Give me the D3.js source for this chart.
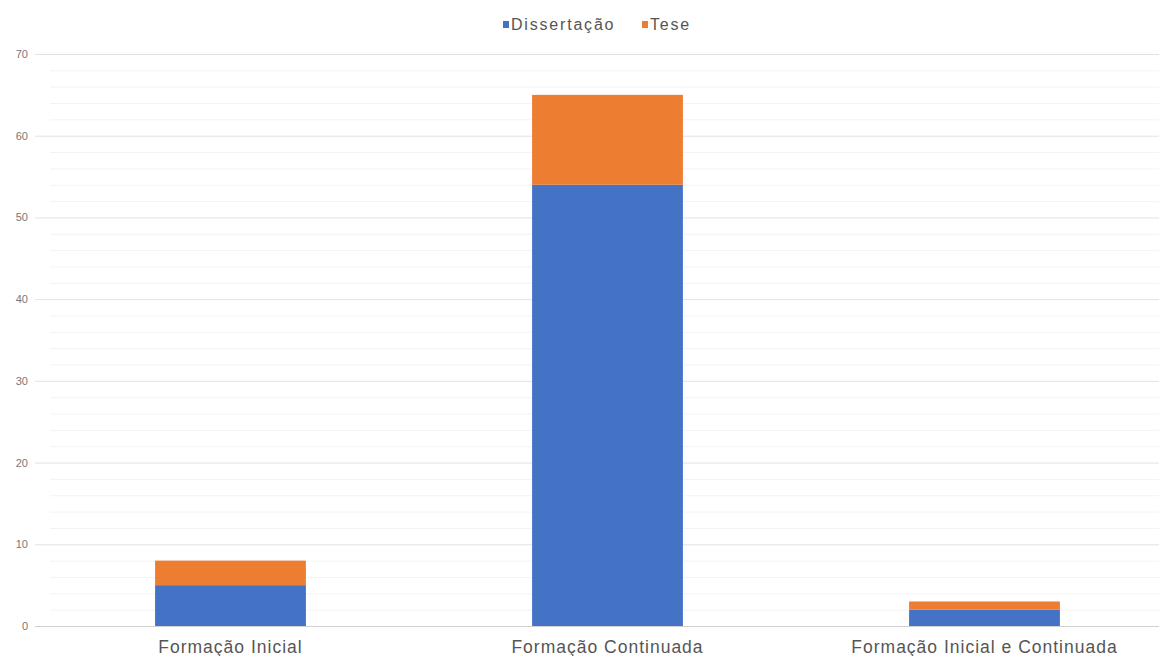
<!DOCTYPE html>
<html>
<head>
<meta charset="utf-8">
<script src="https://cdn.jsdelivr.net/npm/d3@7"></script>
<style>
  html, body { margin: 0; padding: 0; background: #fff; }
  svg { display: block; font-family: Arial, "Liberation Sans", sans-serif; }
</style>
</head>
<body>
<svg id="chart" width="1159" height="656"></svg>
<script>
// Research works by training type, split into dissertations and theses
const categories = ["Formação Inicial", "Formação Continuada", "Formação Inicial e Continuada"];
const seriesNames = ["Dissertação", "Tese"];
const dissertacao = [5, 54, 2];
const tese = [3, 11, 1];
const majorTicks = [0, 10, 20, 30, 40, 50, 60, 70];
const minorTicks = [2, 4, 6, 8, 12, 14, 16, 18, 22, 24, 26, 28, 32, 34, 36, 38, 42, 44, 46, 48, 52, 54, 56, 58, 62, 64, 66, 68];
const colors = ["#4472C4", "#ED7D31"];

const svg = d3.select("#chart");
const gridRight = 1159;

const x = d3.scaleBand().domain(categories).range([42, 1173]).paddingInner(0.6).paddingOuter(0.3);
const y = d3.scaleLinear().domain([0, 70]).range([626, 54]);

// minor gridlines
svg.append("g").selectAll("line").data(minorTicks).join("line")
  .attr("x1", 50).attr("x2", gridRight)
  .attr("y1", d => y(d) + 0.5).attr("y2", d => y(d) + 0.5)
  .attr("stroke", "#f3f3f3").attr("stroke-width", 1);

// major gridlines
svg.append("g").selectAll("line").data(majorTicks).join("line")
  .attr("x1", 35).attr("x2", gridRight)
  .attr("y1", d => y(d) + 0.5).attr("y2", d => y(d) + 0.5)
  .attr("stroke", d => d === 0 ? "#d0d0d0" : "#e2e2e2").attr("stroke-width", 1);

// y tick labels
svg.append("g").selectAll("text").data(majorTicks).join("text")
  .attr("x", 28).attr("y", d => y(d) + 4)
  .attr("text-anchor", "end")
  .attr("font-size", 11).attr("fill", "#777")
  .text(d => d);

// stacked bars
const rows = categories.map((c, i) => ({ cat: c, "Dissertação": dissertacao[i], "Tese": tese[i] }));
const stacked = d3.stack().keys(seriesNames)(rows);

svg.append("g").selectAll("g").data(stacked).join("g")
  .attr("fill", (d, i) => colors[i])
  .selectAll("rect").data(d => d).join("rect")
  .attr("x", d => x(d.data.cat))
  .attr("width", x.bandwidth())
  .attr("y", d => y(d[1]))
  .attr("height", d => y(d[0]) - y(d[1]));

// x category labels
svg.append("g").selectAll("text").data(categories).join("text")
  .attr("x", d => x(d) + x.bandwidth() / 2)
  .attr("y", 653)
  .attr("text-anchor", "middle")
  .attr("font-size", 17.5).attr("fill", "#555")
  .attr("letter-spacing", 1)
  .text(d => d);

// legend
const legend = svg.append("g");
const legendItems = [
  { name: seriesNames[0], color: colors[0], x: 503 },
  { name: seriesNames[1], color: colors[1], x: 642 }
];
legendItems.forEach(it => {
  legend.append("rect").attr("x", it.x).attr("y", 21).attr("width", 6).attr("height", 7).attr("fill", it.color);
  legend.append("text").attr("x", it.x + 8).attr("y", 30)
    .attr("font-size", 16).attr("fill", "#555").attr("letter-spacing", 1.8)
    .text(it.name);
});
</script>
</body>
</html>
